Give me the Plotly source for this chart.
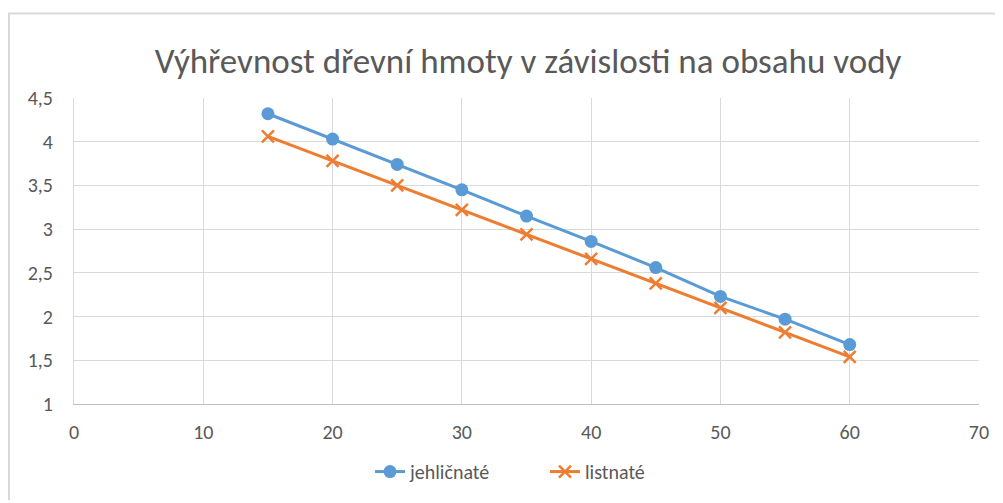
import plotly.graph_objects as go

voda = [15, 20, 25, 30, 35, 40, 45, 50, 55, 60]
jehlicnate = [4.32, 4.03, 3.74, 3.45, 3.15, 2.86, 2.56, 2.23, 1.97, 1.68]
listnate = [4.06, 3.78, 3.50, 3.22, 2.94, 2.66, 2.38, 2.10, 1.82, 1.54]

title_text = "Výhřevnost dřevní hmoty v závislosti na obsahu vody"
FONT = "Carlito, Liberation Sans Narrow, Lato, Open Sans, sans-serif"

fig = go.Figure()
fig.add_trace(go.Scatter(
    x=voda, y=jehlicnate, name="jehličnaté", mode="lines+markers",
    line=dict(color="#5b9bd5", width=3),
    marker=dict(symbol="circle", size=13, color="#5b9bd5"),
))
fig.add_trace(go.Scatter(
    x=voda, y=listnate, name="listnaté", mode="lines+markers",
    line=dict(color="#ed7d31", width=3),
    marker=dict(symbol="x-thin", size=12, color="#ed7d31",
                line=dict(color="#ed7d31", width=2.5)),
))

# page body has an 8px margin; figure coordinates = page coordinates - 8
W, H = 995, 495
L, R, T, B = 66, 24, 90, 97
pw, ph = W - L - R, H - T - B

def px(p):
    return (p - L) / pw

def py(p):
    return (H - B - p) / ph

fig.add_shape(type="path", xref="paper", yref="paper",
              path=f"M {px(1)} {py(H)} L {px(1)} {py(5)} L {px(W)} {py(5)}",
              line=dict(color="#d9d9d9", width=2))

fig.update_layout(
    width=W, height=H,
    margin=dict(l=L, r=R, t=T, b=B),
    paper_bgcolor="white", plot_bgcolor="white",
    separators=", ",
    font=dict(family=FONT, size=20, color="#595959"),
    title=dict(text=title_text, x=px(539), xanchor="center",
               y=1 - 53 / H, yanchor="middle",
               font=dict(family=FONT, size=35, color="#595959")),
    xaxis=dict(range=[0, 70], dtick=10, tick0=0, showgrid=True,
               gridcolor="#d9d9d9", gridwidth=1, zeroline=False,
               showline=True, linecolor="#bfbfbf", linewidth=1,
               ticks="", ticklabelstandoff=10,
               tickfont=dict(family=FONT, size=20, color="#595959")),
    yaxis=dict(range=[1, 4.5], dtick=0.5, tick0=1, showgrid=True,
               gridcolor="#d9d9d9", gridwidth=1, zeroline=False,
               showline=True, linecolor="#d9d9d9", linewidth=1,
               ticks="", ticklabelstandoff=16,
               tickfont=dict(family=FONT, size=20, color="#595959")),
    legend=dict(orientation="h", x=px(362), xanchor="left",
                y=py(466), yanchor="middle",
                font=dict(family=FONT, size=20, color="#595959"),
                entrywidth=130, entrywidthmode="pixels"),
    showlegend=True,
)

fig.write_html("out.html")
